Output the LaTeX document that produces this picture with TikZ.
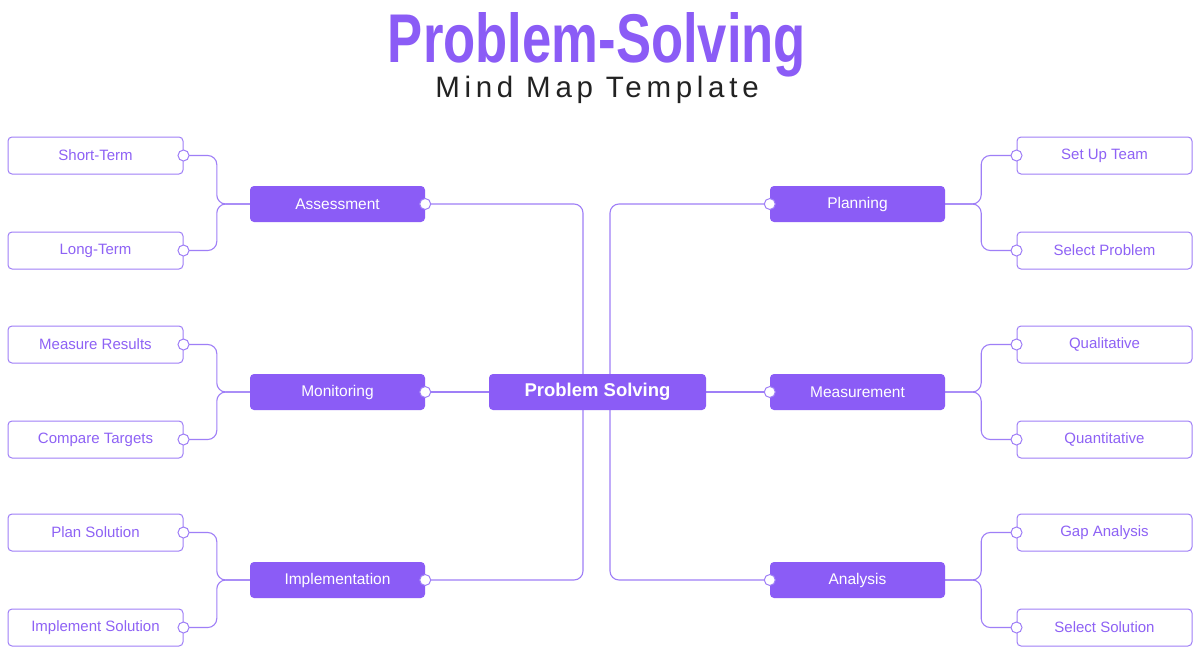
\documentclass[tikz,border=0pt]{standalone}
\usepackage{fontspec}
\setmainfont{Liberation Sans}
\newfontfamily\subfont[LetterSpace=16]{Liberation Sans}
\usetikzlibrary{backgrounds,calc}
\definecolor{vio}{HTML}{8B5CF6}
\definecolor{vline}{HTML}{9F7FF7}
\definecolor{vtext}{HTML}{8E62F5}
\definecolor{dark}{HTML}{222222}
\tikzset{
  leaf/.style={draw=vline, line width=1pt, fill=white, rounded corners=4pt, minimum width=175pt, minimum height=37pt, text=vtext, font=\fontsize{15}{18}\selectfont, inner sep=0pt},
  mid/.style={fill=vio, rounded corners=4pt, minimum width=175pt, minimum height=36pt, text=white, font=\fontsize{15.5}{18}\selectfont, inner sep=0pt},
  hub/.style={fill=vio, rounded corners=4pt, minimum width=217pt, minimum height=36pt, text=white, font=\bfseries\fontsize{18.5}{22}\selectfont, inner sep=0pt},
  conn/.style={draw=vline, line width=1.1pt, rounded corners=9pt},
  dot/.style={circle, draw=vline, line width=1pt, fill=white, minimum size=11pt, inner sep=0pt}
}
\begin{document}
\begin{tikzpicture}[x=1pt,y=-1pt]
\useasboundingbox (0,0) rectangle (1200,653);
% titles
\node[text=vio, inner sep=0pt, anchor=base] (title) at (597,62) {\resizebox{418pt}{50pt}{\bfseries Problem-Solving}};
\node[text=dark, inner sep=0pt, anchor=base] (sub) at (597,97) {\subfont\fontsize{29.5}{34}\selectfont Mind Map Template};
% hub
\node[hub] (hub) at (597.5,392) {Problem Solving};
% mid nodes
\node[mid] (assess) at (337.5,204) {Assessment};
\node[mid] (monit) at (337.5,392) {Monitoring};
\node[mid] (impl) at (337.5,580) {Implementation};
\node[mid] (plan) at (857.5,204) {Planning};
\node[mid] (meas) at (857.5,392) {Measurement};
\node[mid] (anal) at (857.5,580) {Analysis};
% leaves
\node[leaf] (st) at (95.5,155.5) {Short-Term};
\node[leaf] (lt) at (95.5,250.5) {Long-Term};
\node[leaf] (mr) at (95.5,344.5) {Measure Results};
\node[leaf] (ct) at (95.5,439.5) {Compare Targets};
\node[leaf] (ps) at (95.5,532.5) {Plan Solution};
\node[leaf] (is) at (95.5,627.5) {Implement Solution};
\node[leaf] (su) at (1104.5,155.5) {Set Up Team};
\node[leaf] (sp) at (1104.5,250.5) {Select Problem};
\node[leaf] (ql) at (1104.5,344.5) {Qualitative};
\node[leaf] (qn) at (1104.5,439.5) {Quantitative};
\node[leaf] (ga) at (1104.5,532.5) {Gap Analysis};
\node[leaf] (ss) at (1104.5,627.5) {Select Solution};
% junction coordinates
\coordinate (lv) at (583,0);
\coordinate (rv) at (610,0);
\coordinate (ja) at ($(assess.west)+(-33,0)$);
\coordinate (jm) at ($(monit.west)+(-33,0)$);
\coordinate (ji) at ($(impl.west)+(-33,0)$);
\coordinate (jp) at ($(plan.east)+(36,0)$);
\coordinate (jq) at ($(meas.east)+(36,0)$);
\coordinate (jn) at ($(anal.east)+(36,0)$);
\begin{scope}[on background layer]
\fill[white] (0,0) rectangle (1200,653);
\draw[conn] (assess.east) -| (lv |- impl.east) -- (impl.east);
\draw[conn] (plan.west) -| (rv |- anal.west) -- (anal.west);
\draw[conn] (monit.east) -- (hub.west);
\draw[conn] (hub.east) -- (meas.west);
\draw[conn] (st.east) -| (ja) -- (assess.west);
\draw[conn] (lt.east) -| (ja) -- (assess.west);
\draw[conn] (mr.east) -| (jm) -- (monit.west);
\draw[conn] (ct.east) -| (jm) -- (monit.west);
\draw[conn] (ps.east) -| (ji) -- (impl.west);
\draw[conn] (is.east) -| (ji) -- (impl.west);
\draw[conn] (su.west) -| (jp) -- (plan.east);
\draw[conn] (sp.west) -| (jp) -- (plan.east);
\draw[conn] (ql.west) -| (jq) -- (meas.east);
\draw[conn] (qn.west) -| (jq) -- (meas.east);
\draw[conn] (ga.west) -| (jn) -- (anal.east);
\draw[conn] (ss.west) -| (jn) -- (anal.east);
\end{scope}
% dots
\foreach \n in {st,lt,mr,ct,ps,is,assess,monit,impl}{\node[dot] at (\n.east) {};}
\foreach \n in {su,sp,ql,qn,ga,ss,plan,meas,anal}{\node[dot] at (\n.west) {};}
\end{tikzpicture}
\end{document}
